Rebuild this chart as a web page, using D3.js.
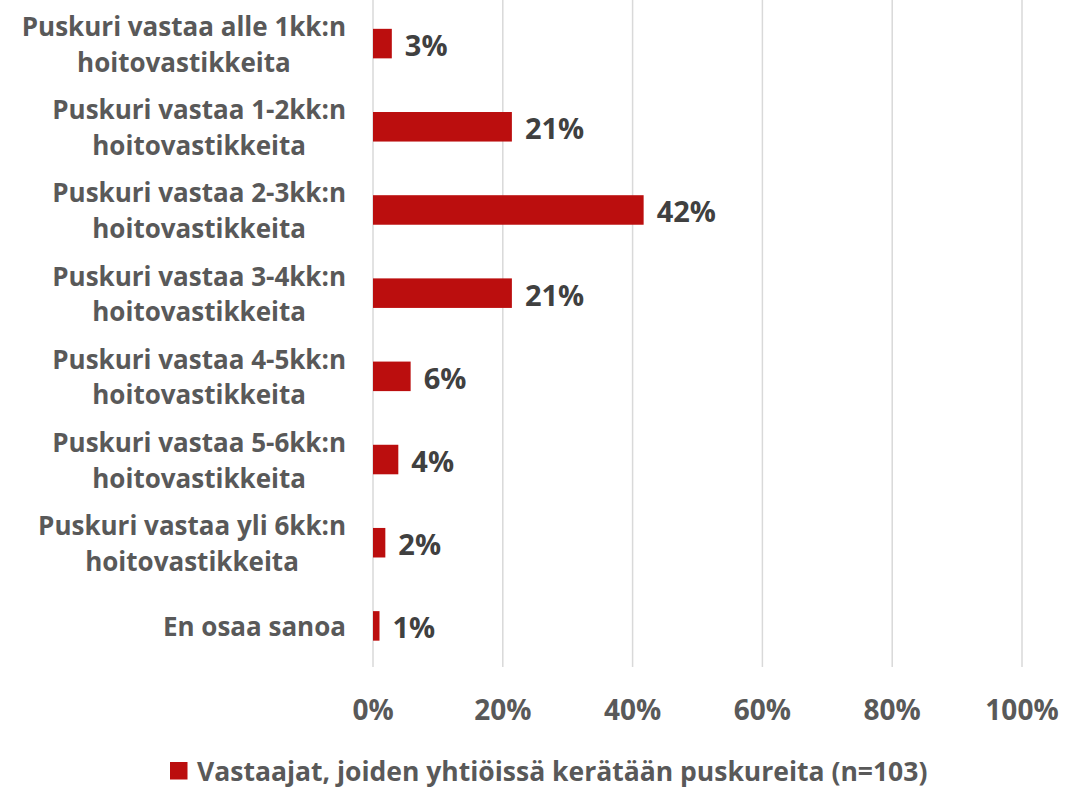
<!DOCTYPE html>
<html>
<head>
<meta charset="utf-8">
<script src="https://cdn.jsdelivr.net/npm/d3@7"></script>
<style>
  body { margin: 0; background: #fff; }
  svg { display: block; font-family: "Open Sans", Lato, sans-serif; font-weight: bold; }
</style>
</head>
<body>
<svg id="chart" width="1066" height="788"></svg>
<script>
// categories (line breaks as in the original labels)
const categories = [
    "Puskuri vastaa alle 1kk:n\nhoitovastikkeita",
    "Puskuri vastaa 1-2kk:n\nhoitovastikkeita",
    "Puskuri vastaa 2-3kk:n\nhoitovastikkeita",
    "Puskuri vastaa 3-4kk:n\nhoitovastikkeita",
    "Puskuri vastaa 4-5kk:n\nhoitovastikkeita",
    "Puskuri vastaa 5-6kk:n\nhoitovastikkeita",
    "Puskuri vastaa yli 6kk:n\nhoitovastikkeita",
    "En osaa sanoa"
];
// share of respondents
const values = [0.029, 0.214, 0.417, 0.214, 0.058, 0.039, 0.019, 0.010];
const ticks = [0, 0.2, 0.4, 0.6, 0.8, 1.0];
const seriesName = "Vastaajat, joiden yhtiöissä kerätään puskureita (n=103)";

const data = categories.map((c, i) => ({ cat: c, value: values[i] }));

const svg = d3.select("#chart");
const red = "#BB0E0E";

const x = d3.scaleLinear().domain([0, 1]).range([373, 1022]);
const y = d3.scaleBand()
    .domain(categories)
    .range([2, 667.5])
    .paddingInner(0.645)
    .paddingOuter(0.3225);

// gridlines
svg.append("g")
    .selectAll("line")
    .data(ticks)
    .join("line")
    .attr("x1", d => x(d)).attr("x2", d => x(d))
    .attr("y1", 0).attr("y2", 667)
    .attr("stroke", "#d9d9d9")
    .attr("stroke-width", 1.5);

// tick labels
svg.append("g")
    .selectAll("text")
    .data(ticks)
    .join("text")
    .attr("x", d => x(d))
    .attr("y", 720)
    .attr("text-anchor", "middle")
    .attr("font-size", 28)
    .attr("fill", "#595959")
    .text(d3.format(".0%"));

// bars
svg.append("g")
    .selectAll("rect")
    .data(data)
    .join("rect")
    .attr("x", x(0))
    .attr("y", d => y(d.cat))
    .attr("width", d => x(d.value) - x(0))
    .attr("height", y.bandwidth())
    .attr("fill", red);

// value labels
svg.append("g")
    .selectAll("text")
    .data(data)
    .join("text")
    .attr("x", d => x(d.value) + 13)
    .attr("y", d => y(d.cat) + y.bandwidth() / 2 + 12.5)
    .attr("font-size", 29)
    .attr("fill", "#404040")
    .text(d => d3.format(".0%")(d.value));

// category labels: lines centred on each other, block right aligned
const labelRight = 346;
const catG = svg.append("g");
data.forEach(d => {
    const lines = d.cat.split("\n");
    const cy = y(d.cat) + y.bandwidth() / 2;
    const t = catG.append("text")
        .attr("font-size", 26)
        .attr("fill", "#595959")
        .attr("text-anchor", "middle");
    const spans = lines.map((ln, i) => t.append("tspan").text(ln));
    const widths = spans.map(s => s.node().getComputedTextLength());
    const maxW = d3.max(widths);
    spans.forEach((s, i) => {
        const base = lines.length === 1 ? cy + 10 : cy - 7.5 + i * 35.5;
        s.attr("x", labelRight - maxW / 2).attr("y", base);
    });
});

// legend
const legend = svg.append("g");
legend.append("rect")
    .attr("x", 170).attr("y", 762)
    .attr("width", 17.5).attr("height", 17.5)
    .attr("fill", red);
legend.append("text")
    .attr("x", 197).attr("y", 781)
    .attr("font-size", 26.5)
    .attr("fill", "#595959")
    .text(seriesName);
</script>
</body>
</html>
